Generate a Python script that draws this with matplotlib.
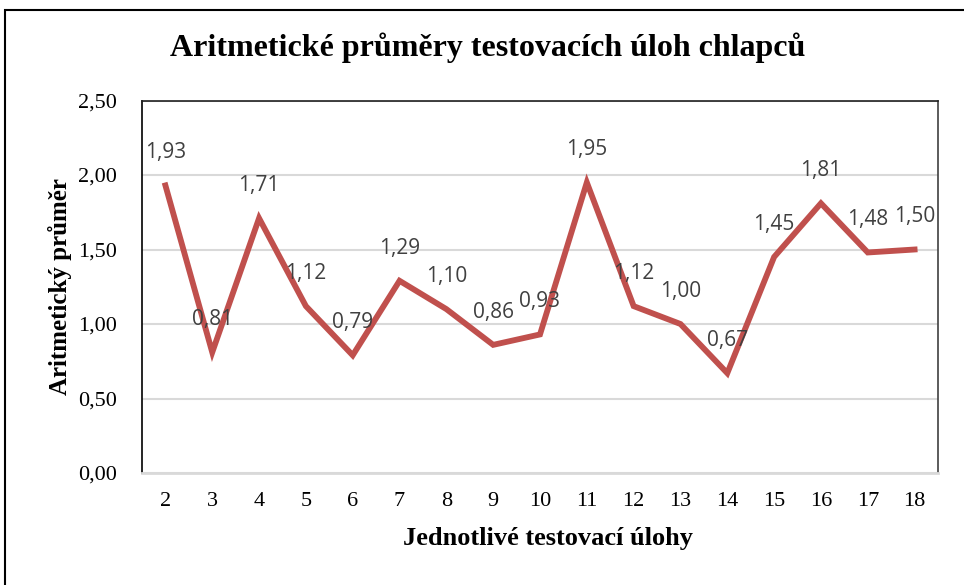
import matplotlib
matplotlib.use("Agg")
import matplotlib.pyplot as plt
from matplotlib.patches import Rectangle

categories = ["2", "3", "4", "5", "6", "7", "8", "9", "10", "11", "12", "13", "14", "15", "16", "17", "18"]
values = [1.93, 0.81, 1.71, 1.12, 0.79, 1.29, 1.10, 0.86, 0.93, 1.95, 1.12, 1.00, 0.67, 1.45, 1.81, 1.48, 1.50]
yticks = [0.0, 0.5, 1.0, 1.5, 2.0, 2.5]

serif = "Liberation Serif"
sans = ["Open Sans", "DejaVu Sans"]

fig = plt.figure(figsize=(9.64, 5.85), dpi=100)
ax = fig.add_axes([142/964, (585-473)/585, (938-142)/964, (473-100.5)/585])

x = list(range(len(categories)))
ax.plot(x, values, color="#C0504D", linewidth=4.2, solid_joinstyle="miter", zorder=3)

for xi, v in zip(x, values):
    ax.annotate(f"{v:.2f}".replace(".", ","), (xi, v), xytext=(0, 23.5), textcoords="offset points",
                ha="center", va="center", fontsize=15, color="#404040", family=sans, zorder=4)

ax.set_xlim(-0.5, len(categories) - 0.5)
ax.set_ylim(0, 2.5)
ax.set_xticks(x)
ax.set_xticklabels(categories, family=serif, fontsize=16)
ax.set_yticks(yticks)
ax.set_yticklabels([f"{t:.2f}".replace(".", ",") for t in yticks], family=serif, fontsize=16)
ax.tick_params(axis="both", length=0)
ax.tick_params(axis="y", pad=18)
ax.tick_params(axis="x", pad=14)
ax.grid(axis="y", color="#d9d9d9", linewidth=1.5, zorder=1)
ax.set_axisbelow(True)

ax.spines["left"].set_color("black")
ax.spines["left"].set_linewidth(1.2)
ax.spines["top"].set_color("#202020")
ax.spines["top"].set_linewidth(1.2)
ax.spines["right"].set_color("#404040")
ax.spines["right"].set_linewidth(1.2)
ax.spines["bottom"].set_color("#d9d9d9")
ax.spines["bottom"].set_linewidth(2)

fig.text(60/964, 1 - 287/585, "Aritmetický průměr", rotation=90, ha="center", va="center",
         family=serif, fontweight="bold", fontsize=18)
fig.text(548/964, 1 - 538/585, "Jednotlivé testovací úlohy", ha="center", va="center",
         family=serif, fontweight="bold", fontsize=19)
fig.text(488/964, 1 - 48/585, "Aritmetické průměry testovacích úloh chlapců", ha="center", va="center",
         family=serif, fontweight="bold", fontsize=23)

fig.patches.append(Rectangle((5/964, -0.05), 1.2, 1 - 10/585 + 0.05, transform=fig.transFigure,
                             fill=False, edgecolor="black", linewidth=1.5))

fig.savefig("out.png", dpi=100)
